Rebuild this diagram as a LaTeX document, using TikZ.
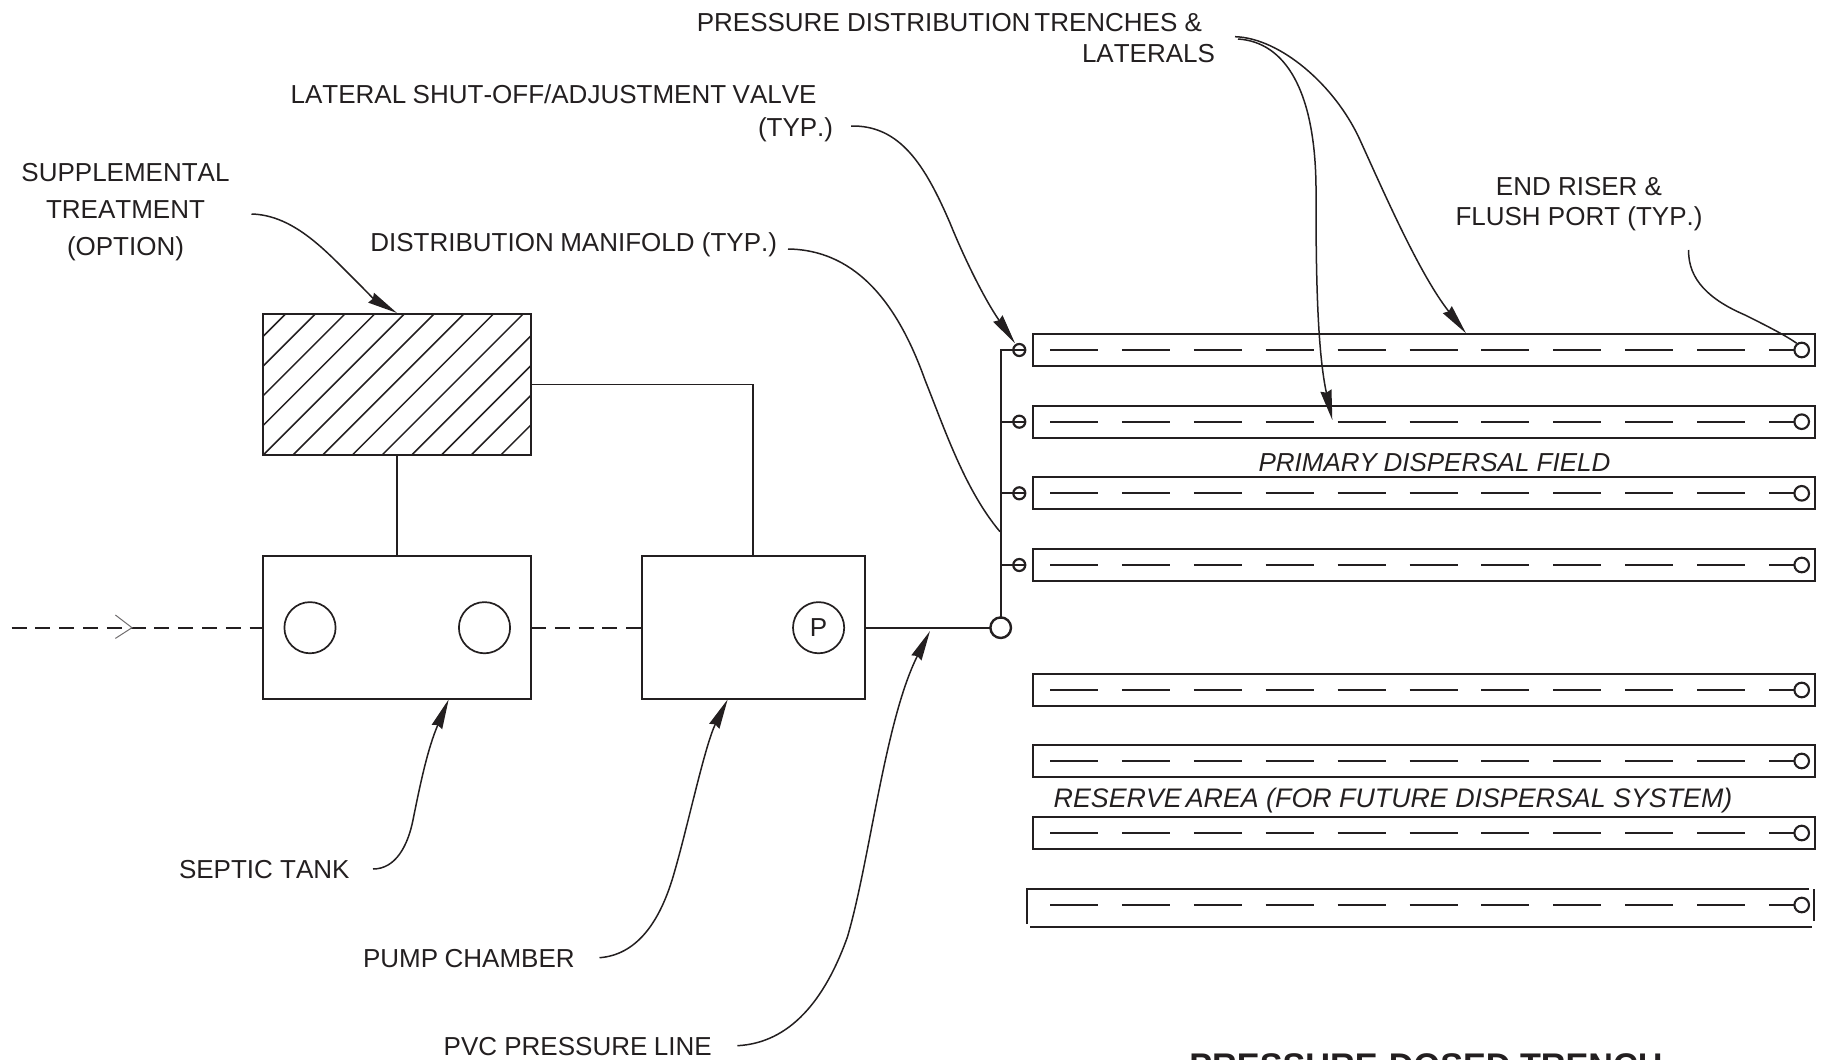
\documentclass[tikz,border=0pt]{standalone}
\usepackage{fontspec}
\setmainfont[Kerning=Off]{Liberation Sans}
\usetikzlibrary{arrows.meta}
\definecolor{ink}{HTML}{231F20}
\newcommand{\nsp}{\kern .15em\relax}
\newcommand{\msp}{\kern .25em\relax}
\tikzset{
  lbl/.style={inner sep=0pt,outer sep=0pt,text=ink,font=\fontsize{13}{15}\selectfont,text height=9.3pt,text depth=0pt},
  ital/.style={lbl,font=\fontsize{13}{15}\selectfont\itshape},
  heavy/.style={draw=ink,line width=1.15pt,inner sep=0pt,outer sep=0pt},
  rectbox/.style={heavy,rectangle,fill=white},
  pipe/.style={draw=ink,line width=1.1pt},
  linkpipe/.style={draw=ink,line width=.95pt},
  trenchbox/.style={draw=ink,line width=1.05pt,inner sep=0pt,outer sep=0pt,rectangle,fill=white},
  drain/.style={draw=ink,line width=1.1pt,dash pattern=on 24pt off 11.95pt},
  sewer/.style={draw=ink,line width=1.15pt,dash pattern=on 7.5pt off 4.4pt},
  leader/.style={draw=ink,line width=.75pt},
  leadarrow/.style={leader,-{Stealth[length=15pt,width=5.6pt,inset=1pt]}},
  hatchline/.style={draw=ink,line width=.75pt},
  valve/.style={circle,draw=ink,line width=1.1pt,minimum size=6pt,inner sep=0pt,outer sep=0pt},
  riser/.style={circle,draw=ink,fill=white,line width=1.05pt,minimum size=7.3pt,inner sep=0pt,outer sep=0pt},
  manhole/.style={circle,draw=ink,line width=.85pt,minimum size=25.6pt,inner sep=0pt},
}
\begin{document}
\begin{tikzpicture}[x=.5pt,y=-.5pt]
\useasboundingbox (0,0) rectangle (1826,1060);
\clip (0,0) rectangle (1826,1060);

% hatched treatment unit
\begin{scope}
  \clip (263.3,314) rectangle (531,455);
  \foreach \k in {-4,...,8}
    \draw[hatchline] ({263.3+29.7*\k},455) -- ({263.3+29.7*\k+200},255);
\end{scope}
\node[heavy,rectangle,minimum width=133.7pt,minimum height=70.5pt,anchor=north west] (unit) at (263.3,314) {};

% tank and chamber
\node[rectbox,minimum width=133.7pt,minimum height=71.5pt,anchor=north west] (tank) at (263.3,556) {};
\node[manhole] (mh1) at (310,627.7) {};
\node[manhole] (mh2) at (484.5,627.7) {};
\node[rectbox,minimum width=111.5pt,minimum height=71.5pt,anchor=north west] (chamber) at (642,556) {};
\node[manhole,text=ink,font=\fontsize{13}{15}\selectfont] (pump) at (818.6,627.7) {P};

\draw[linkpipe] (unit.south) -- (tank.north);
\coordinate (unitout) at (531,384.5);
\coordinate (chambertop) at (753.4,556);
\coordinate (elbow) at (753.4,384.5);
\draw[linkpipe] (unitout) -- (elbow) -- (chambertop);

% inlet
\coordinate (inlet) at (11.6,627.7);
\coordinate (tankin) at (263.3,627.7);
\coordinate (tankout) at (531,627.7);
\coordinate (chamberin) at (642,627.7);
\draw[sewer] (inlet) -- (tankin);
\draw[sewer] (tankout) -- (chamberin);
\coordinate (flowa) at (115.4,615);
\coordinate (flowb) at (132,627.7);
\coordinate (flowc) at (115.4,638.4);
\draw[draw=ink!65,line width=.5pt] (flowa) -- (flowb) -- (flowc);

% manifold
\node[circle,draw=ink,fill=white,line width=1.2pt,minimum size=10.3pt,inner sep=0pt,outer sep=0pt] (tee) at (1000.7,627.7) {};
\coordinate (chamberout) at (865,627.7);
\draw[line width=1.15pt,draw=ink] (chamberout) -- (tee.west);
\coordinate (mantop) at (1000.7,350);
\draw[line width=1.15pt,draw=ink,line cap=rect] (tee.north) -- (mantop);

% valves and trenches
\foreach \n/\y in {1/350,2/421.7,3/493.3,4/565}{
  \node[valve] (v\n) at (1019.3,\y) {};
  \coordinate (m\n) at (1000.7,\y);
  \draw[pipe] (m\n) -- (v\n.east);
}
\foreach \n/\y in {1/350,2/421.7,3/493.3,4/565,5/690,6/761,7/833}{
  \node[trenchbox,minimum width=390.9pt,minimum height=16pt] (t\n) at (1423.85,\y) {};
  \node[riser] (r\n) at (1801.7,\y) {};
  \coordinate (d\n) at (1050,\y);
  \draw[drain] (d\n) -- (r\n.west);
}
% last trench, drawn with open corners
\coordinate (t8a) at (1027.3,889);
\coordinate (t8b) at (1809,889);
\coordinate (t8c) at (1027.3,924);
\coordinate (t8d) at (1030,926.7);
\coordinate (t8e) at (1811.7,926.7);
\coordinate (t8f) at (1814,889);
\coordinate (t8g) at (1814,921);
\draw[pipe] (t8c) -- (t8a) -- (t8b);
\draw[pipe] (t8d) -- (t8e);
\draw[pipe] (t8f) -- (t8g);
\node[riser] (r8) at (1801.7,905) {};
\coordinate (d8) at (1050,905);
\draw[drain] (d8) -- (r8.west);

% labels
\node[lbl,anchor=east] (lab1a) at (1202,22) {PRESSURE DISTRIBUTION\nsp TRENCHES \&};
\node[lbl,anchor=west] (lab1b) at (1082,53.6) {LATERALS};
\node[lbl,anchor=east] (lab2a) at (816.5,94.3) {LATERAL\msp SHUT-OFF/ADJUSTMENT\msp VALVE};
\node[lbl,anchor=west] (lab2b) at (758,127) {(TYP.)};
\node[lbl] (lab3a) at (125.5,172) {SUPPLEMENTAL};
\node[lbl] (lab3b) at (125.5,209.6) {TREATMENT};
\node[lbl] (lab3c) at (125.5,245.7) {(OPTION)};
\node[lbl,anchor=east] (lab4) at (777,242) {DISTRIBUTION\msp MANIFOLD (TYP.)};
\node[lbl] (lab5a) at (1579,186) {END RISER \&};
\node[lbl] (lab5b) at (1579,216.6) {FLUSH PORT (TYP.)};
\node[ital] (lab6) at (1434.5,462) {PRIMARY\msp DISPERSAL FIELD};
\node[ital,font=\fontsize{13.4}{15}\selectfont\itshape] (lab7) at (1393,797.7) {RESERVE\nsp AREA (FOR FUTURE DISPERSAL SYSTEM)};
\node[lbl,anchor=west] (lab8) at (179,868.7) {SEPTIC TANK};
\node[lbl,anchor=west] (lab9) at (363,958) {PUMP\msp CHAMBER};
\node[lbl,anchor=west] (lab10) at (443.7,1045.7) {PVC PRESSURE\msp LINE};
\node[anchor=base,inner sep=0pt,text=ink,font=\fontsize{17.1}{20}\selectfont\bfseries] (lab11) at (1426,1077) {PRESSURE-DOSED TRENCH};

% leaders
\coordinate (s1) at (1235,36.7);
\coordinate (e1) at (1466,333.3);
\draw[leadarrow] (s1) .. controls (1280,38) and (1335,85) .. (1360,140) .. controls (1385,195) and (1420,275) .. (e1);
\coordinate (s2) at (1238,39);
\coordinate (e2) at (1332.3,420);
\draw[leadarrow] (s2) .. controls (1285,42) and (1315,90) .. (1316,186.7) .. controls (1316,250) and (1316,345) .. (e2);
\coordinate (s3) at (851,126);
\coordinate (e3) at (1015,343.3);
\draw[leadarrow] (s3) .. controls (900,125) and (925,165) .. (950,223) .. controls (965,260) and (985,300) .. (e3);
\coordinate (s4) at (788,249);
\coordinate (e4) at (1000,531.7);
\draw[leader] (s4) .. controls (860,250) and (900,310) .. (925,380) .. controls (945,430) and (965,490) .. (e4);
\coordinate (s5) at (251.5,214);
\coordinate (e5) at (397,313);
\draw[leadarrow] (s5) .. controls (290,215) and (320,245) .. (345,270) .. controls (360,285) and (375,300) .. (e5);
\coordinate (s6) at (1688.6,250);
\coordinate (e6) at (1796.7,343.3);
\draw[leader] (s6) .. controls (1688,280) and (1710,300) .. (1745,315) .. controls (1765,325) and (1785,335) .. (e6);
\coordinate (s7) at (373,869);
\coordinate (e7) at (448.7,699.3);
\draw[leadarrow] (s7) .. controls (396,869) and (408,845) .. (413,820) .. controls (421,780) and (428,748) .. (e7);
\coordinate (s8) at (599.5,957.7);
\coordinate (e8) at (727.7,699.3);
\draw[leadarrow] (s8) .. controls (635,955) and (660,925) .. (675,870) .. controls (688,825) and (705,745) .. (e8);
\coordinate (s9) at (737.3,1045.7);
\coordinate (e9) at (930,631);
\draw[leadarrow] (s9) .. controls (790,1043) and (825,1000) .. (847.5,936.7) .. controls (870,860) and (885,720) .. (e9);
\end{tikzpicture}
\end{document}
